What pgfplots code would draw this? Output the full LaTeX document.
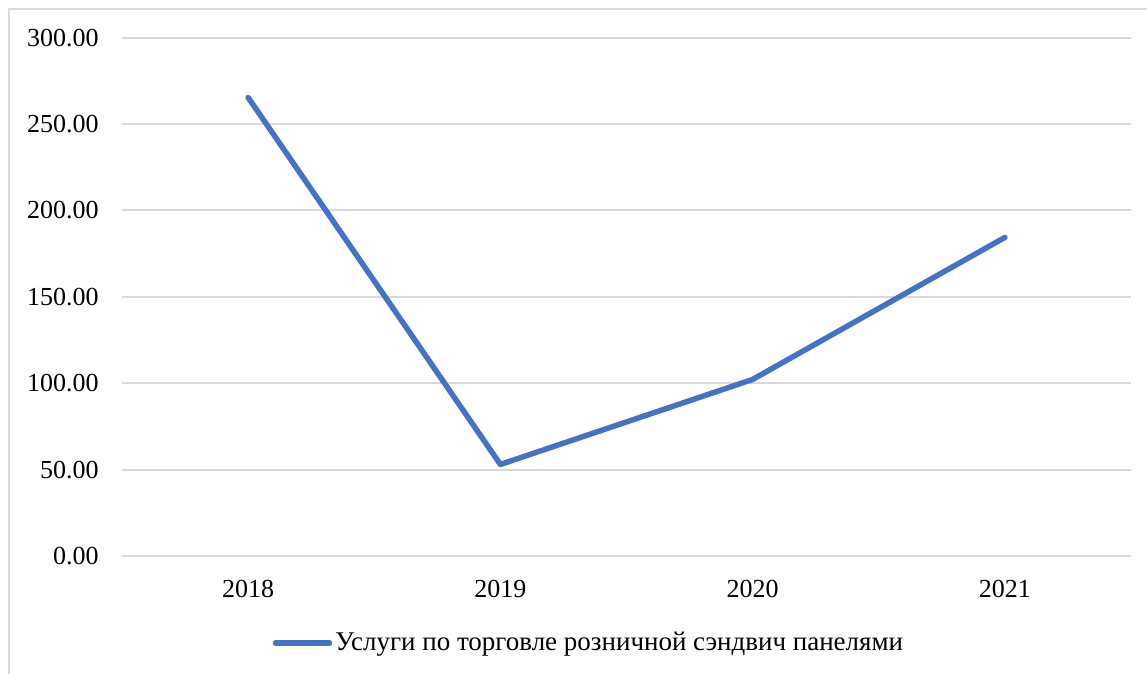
\documentclass[border=0pt]{standalone}
\usepackage{fontspec}
\setmainfont{Liberation Serif}
\usepackage{pgfplots}
\pgfplotsset{compat=1.18}
\definecolor{lineblue}{HTML}{4472C4}
\definecolor{gridgray}{HTML}{D9D9D9}
\begin{document}
\fontsize{13}{15}\selectfont
\begin{tikzpicture}[x=0.5pt,y=-0.5pt]
\useasboundingbox (0,0) rectangle (1147,674);
\draw[gridgray, line width=1pt] (9,9) rectangle (1180,700);
\coordinate (O) at (122,556);
\begin{axis}[
  at={(O)}, anchor=south west,
  scale only axis,
  width=504.5pt, height=259.15pt,
  xmin=-0.5, xmax=3.5, ymin=0, ymax=300,
  xtick={0,1,2,3}, xticklabels={2018,2019,2020,2021},
  ytick={0,50,...,300},
  ymajorgrids, grid style={gridgray, line width=1pt},
  axis line style={draw=none},
  major tick length=0pt,
  tick label style={font=\fontsize{13}{15}\selectfont},
  /pgf/number format/.cd, fixed, fixed zerofill, precision=2, assume math mode=true,
  /pgfplots/.cd,
  yticklabel style={anchor=east, inner sep=0pt, xshift=-11.5pt},
  xticklabel style={anchor=center, inner sep=0pt, yshift=-16.5pt},
  legend style={at={(0.4633,-0.168)}, anchor=center, draw=none, fill=none,
    font=\fontsize{13.5}{15}\selectfont, inner sep=0pt,
    nodes={inner sep=1.5pt}},
  legend image code/.code={\draw[lineblue, line width=2.75pt, line cap=round] (0pt,0pt) -- (27pt,0pt);},
]
\addplot[lineblue, line width=2.75pt, line cap=round, line join=round] coordinates {
  (0,265.4) (1,53) (2,102.2) (3,184.4)
};
\addlegendentry{Услуги по торговле розничной сэндвич панелями}
\end{axis}
\end{tikzpicture}
\end{document}
